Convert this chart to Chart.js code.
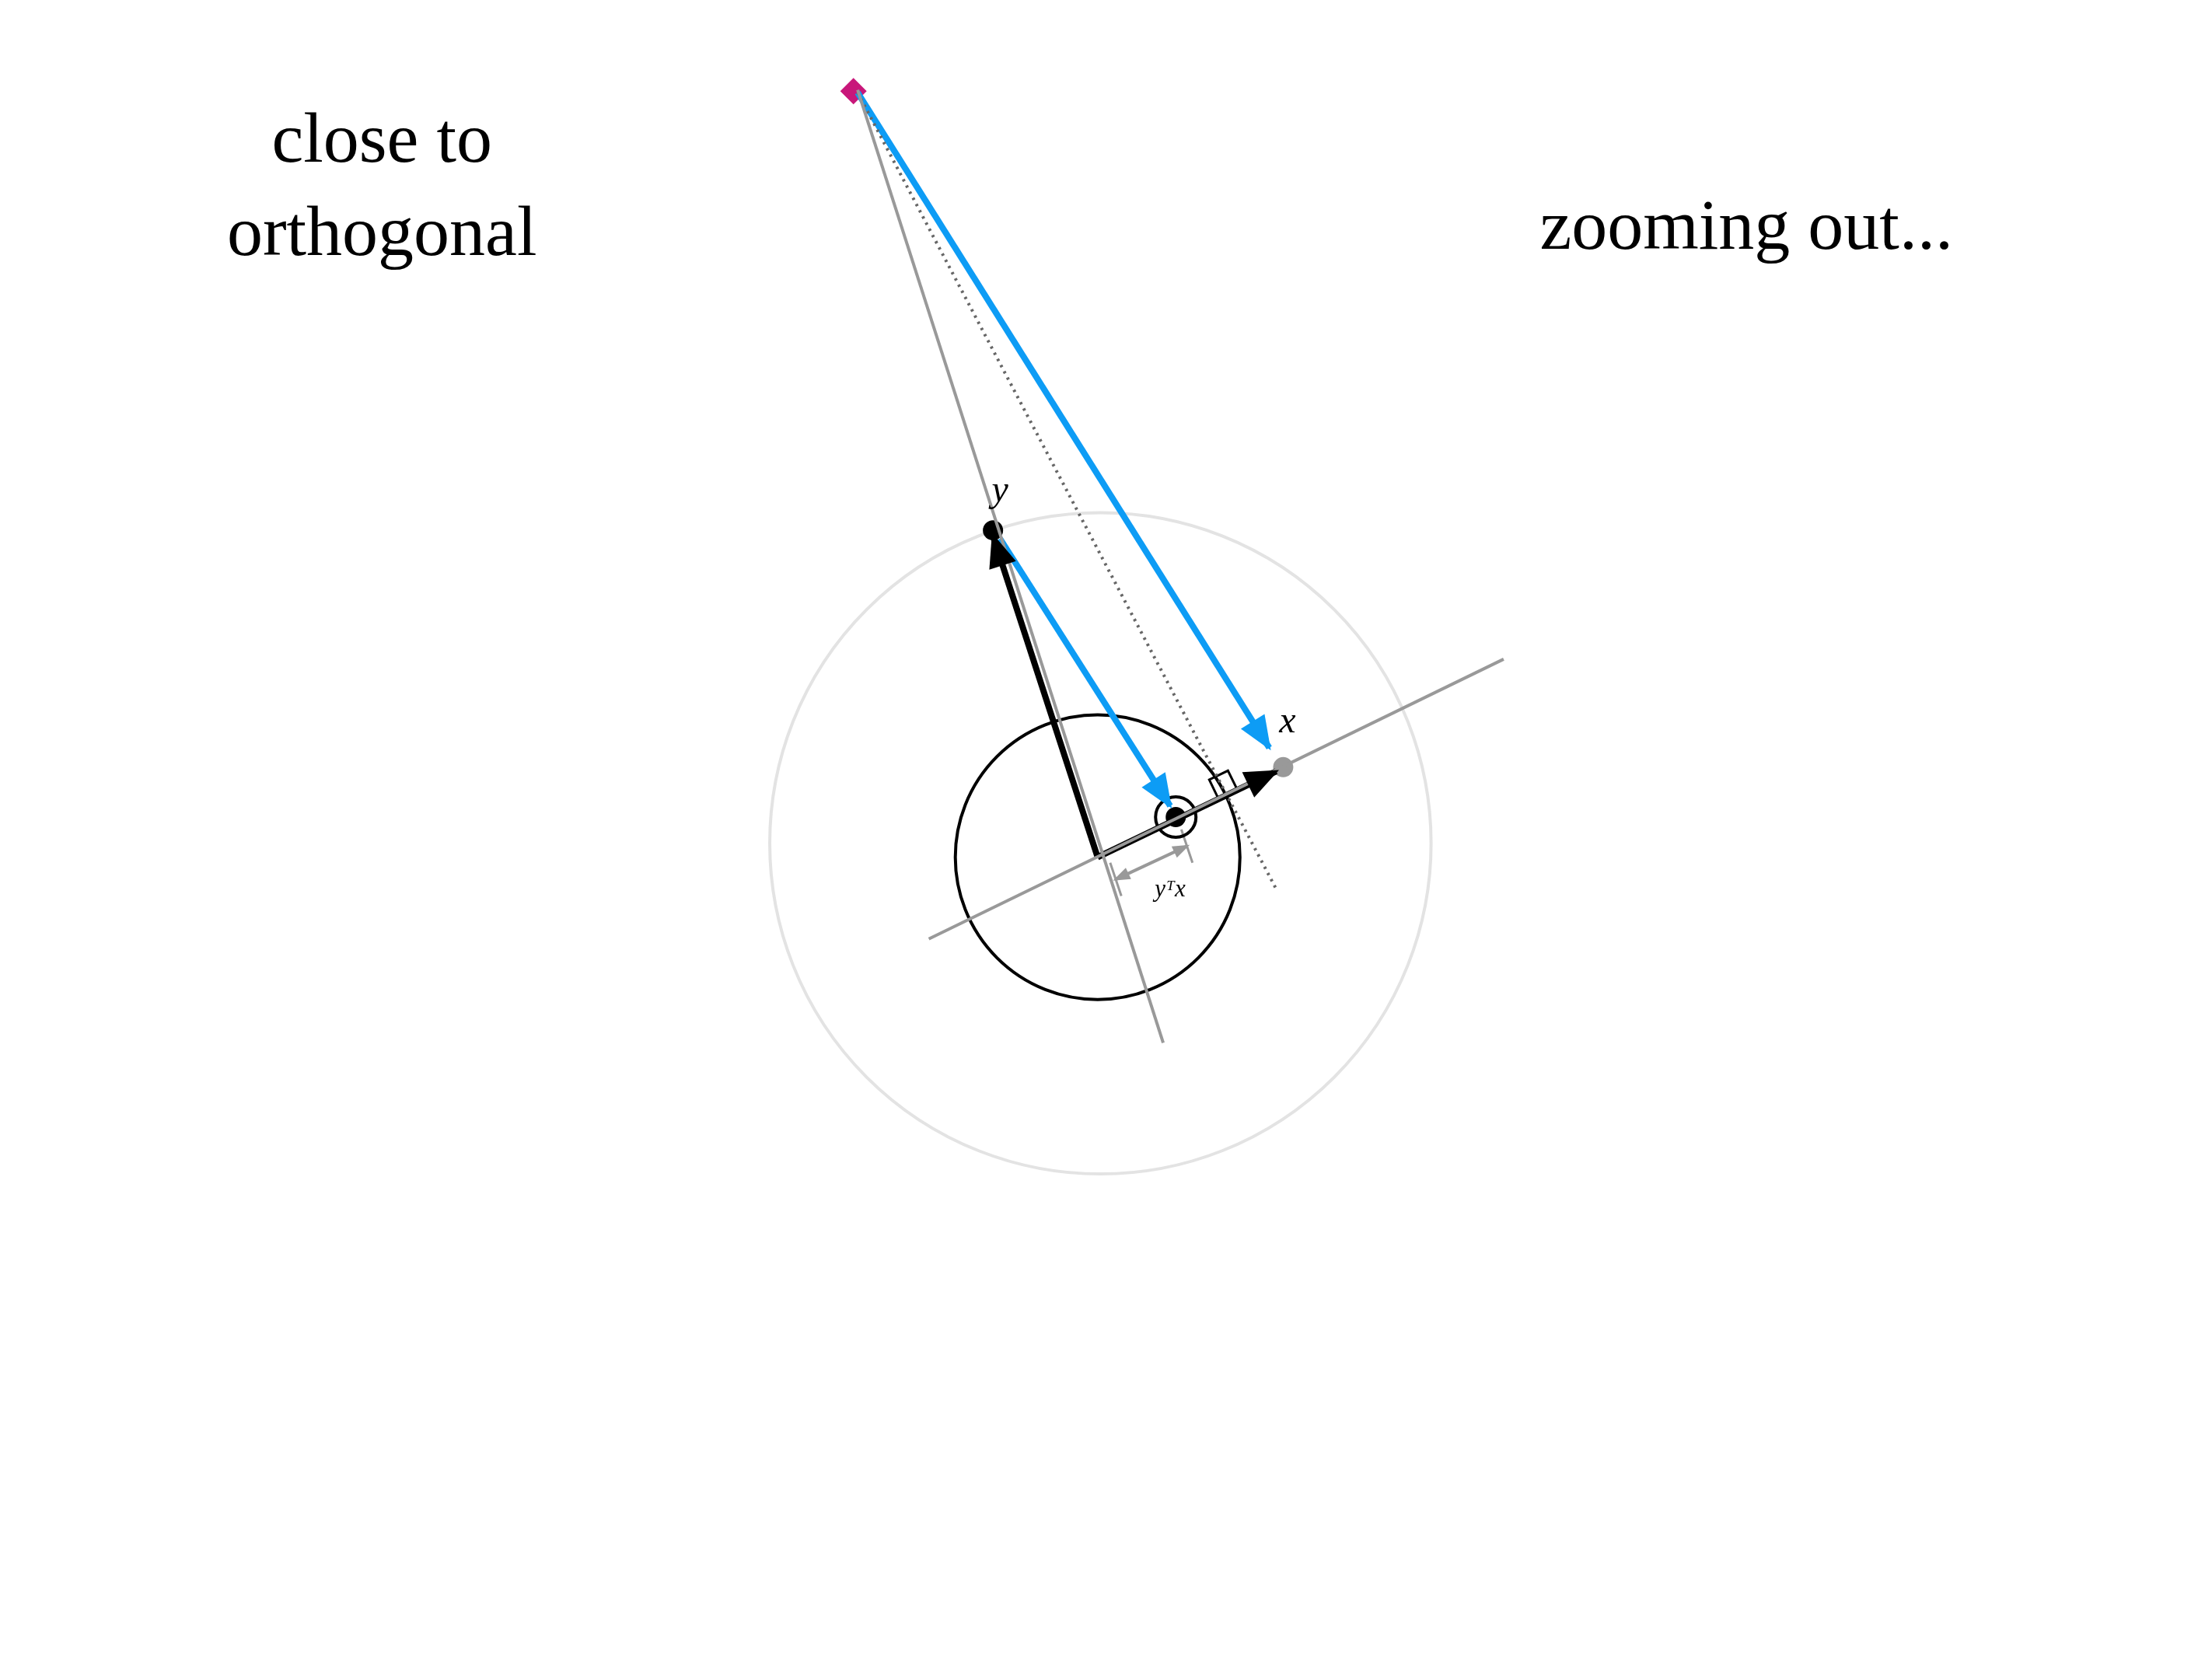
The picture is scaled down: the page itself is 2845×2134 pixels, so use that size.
<!DOCTYPE html>
<html><head><meta charset="utf-8">
<script src="https://cdn.jsdelivr.net/npm/chart.js@4"></script>
<style>html,body{margin:0;padding:0;background:#fff}#w{width:2845px;height:2134px}</style>
</head><body><div id="w"><canvas id="c"></canvas></div>
<script>
// coordinates in diagram units (origin at vector base, y up)
const originPt = [0, 0];
const yPt = [-75, 236];
const xPt = [133, 65];
const projPt = [56, 29];
const farPt = [-175, 553];
const xAxisLine = [[-121, -59], [291, 143]];
const yAxisLine = [[-172, 554], [47, -134]];
const dottedLine = [[-172, 552], [128, -23]];
const blueArrow1 = [[-172, 552], [123, 79]];
const blueArrow2 = [[-70, 230], [52, 37]];
const blackArrowY = [[0, 0], [-75, 232]];
const blackArrowX = [[0, 0], [128, 62]];
const ytxArrow = [[13, -16], [64, 8]];
const rightAngle = [[100, 49], [86.5, 42.4], [80, 56], [93.4, 62.5], [100, 49]];
const unitCircle = {c: [0, 0], r: 102};
const bigCircle = {c: [2, 10], r: 237};
const texts = [
  {t: 'close to', p: [-513, 502], s: 50},
  {t: 'orthogonal', p: [-513, 435], s: 50},
  {t: 'zooming out...', p: [465, 439], s: 50},
  {t: 'y', p: [-70, 257], s: 26, it: true},
  {t: 'x', p: [136, 90], s: 26, it: true},
  {t: 'yᵀx', p: [52, -28], s: 17, it: true}
];
const XMIN = -770, XMAX = 782, YMIN = -562, YMAX = 602;

const toXY = a => a.map(p => ({x: p[0], y: p[1]}));
function ds(pts, color, w, extra) {
  return Object.assign({type: 'line', data: toXY(pts), borderColor: color, backgroundColor: color,
    borderWidth: w, pointRadius: 0, fill: false, tension: 0}, extra || {});
}
const datasets = [
  ds(xAxisLine, '#999', 4),
  ds(yAxisLine, '#999', 4),
  ds(dottedLine, '#666', 4, {borderDash: [3, 6]}),
  ds(rightAngle, '#000', 3),
  ds(blueArrow1, '#0d9cf5', 8, {arrow: 'end', head: 40}),
  ds(blueArrow2, '#0d9cf5', 8, {arrow: 'end', head: 40}),
  ds(blackArrowY, '#000', 8, {arrow: 'end', head: 40}),
  ds(blackArrowX, '#000', 8, {arrow: 'end', head: 40}),
  ds(ytxArrow, '#999', 4, {arrow: 'both', head: 18}),
  {type: 'scatter', data: toXY([yPt, projPt]), pointRadius: 13, backgroundColor: '#000', borderWidth: 0},
  {type: 'scatter', data: toXY([xPt]), pointRadius: 13, backgroundColor: '#999', borderWidth: 0},
  {type: 'scatter', data: toXY([projPt]), pointRadius: 26, backgroundColor: 'rgba(0,0,0,0)', borderColor: '#000', borderWidth: 4},
  {type: 'scatter', data: toXY([farPt]), pointStyle: 'rectRot', pointRadius: 17, backgroundColor: '#c8177a', borderWidth: 0}
];

const plugin = {
  id: 'deco',
  beforeDatasetsDraw(chart) {
    const ctx = chart.ctx, xs = chart.scales.x, ys = chart.scales.y;
    const k = xs.getPixelForValue(1) - xs.getPixelForValue(0);
    [[bigCircle, '#e3e3e3'], [unitCircle, '#000']].forEach(([c, col]) => {
      ctx.save(); ctx.beginPath();
      ctx.arc(xs.getPixelForValue(c.c[0]), ys.getPixelForValue(c.c[1]), c.r * k, 0, Math.PI * 2);
      ctx.strokeStyle = col; ctx.lineWidth = 4; ctx.stroke(); ctx.restore();
    });
    // tick marks of yTx
    ctx.save(); ctx.strokeStyle = '#999'; ctx.lineWidth = 3;
    [[ytxArrow[0]], [ytxArrow[1]]].forEach(([p]) => {
      ctx.beginPath();
      ctx.moveTo(xs.getPixelForValue(p[0] - 4), ys.getPixelForValue(p[1] + 12));
      ctx.lineTo(xs.getPixelForValue(p[0] + 4), ys.getPixelForValue(p[1] - 12));
      ctx.stroke();
    });
    ctx.restore();
  },
  afterDatasetsDraw(chart) {
    const ctx = chart.ctx, xs = chart.scales.x, ys = chart.scales.y;
    chart.data.datasets.forEach((d, i) => {
      if (!d.arrow) return;
      const m = chart.getDatasetMeta(i).data;
      const heads = d.arrow === 'both' ? [[m[0], m[1]], [m[1], m[0]]] : [[m[0], m[1]]];
      heads.forEach(([a, b]) => {
        const ang = Math.atan2(b.y - a.y, b.x - a.x), L = d.head, W = d.head * 0.45;
        ctx.save(); ctx.translate(b.x, b.y); ctx.rotate(ang);
        ctx.beginPath(); ctx.moveTo(4, 0); ctx.lineTo(-L, W); ctx.lineTo(-L, -W); ctx.closePath();
        ctx.fillStyle = d.borderColor; ctx.fill(); ctx.restore();
      });
    });
    ctx.save(); ctx.fillStyle = '#000'; ctx.textAlign = 'center'; ctx.textBaseline = 'alphabetic';
    texts.forEach(t => {
      ctx.font = (t.it ? 'italic ' : '') + Math.round(t.s * 1.833) + 'px "Liberation Serif", "DejaVu Serif", serif';
      ctx.fillText(t.t, xs.getPixelForValue(t.p[0]), ys.getPixelForValue(t.p[1]));
    });
    ctx.restore();
  }
};

new Chart(document.getElementById('c'), {
  data: {datasets},
  options: {
    responsive: true, maintainAspectRatio: false, animation: false,
    layout: {padding: 0},
    plugins: {legend: {display: false}, tooltip: {enabled: false}},
    scales: {
      x: {type: 'linear', min: XMIN, max: XMAX, display: false},
      y: {type: 'linear', min: YMIN, max: YMAX, display: false}
    }
  },
  plugins: [plugin]
});
</script></body></html>
